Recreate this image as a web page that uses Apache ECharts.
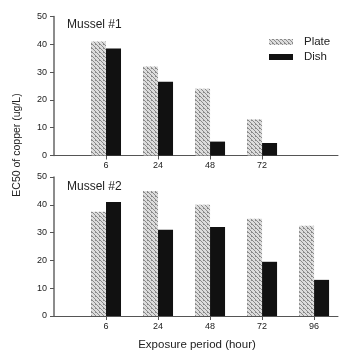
<!DOCTYPE html>
<html><head><meta charset="utf-8">
<script src="https://cdn.jsdelivr.net/npm/echarts@6/dist/echarts.min.js"></script>
<style>html,body{margin:0;padding:0;background:#fff}#c{width:339px;height:353px}</style>
</head><body><div id="c"></div>
<script>
const categories = ["6", "24", "48", "72", "96"];
const topCategories = ["6", "24", "48", "72"];
const mussel1Plate = [41, 32, 24, 13];
const mussel1Dish = [38.5, 26.5, 5, 4.5];
const mussel2Plate = [37.5, 45, 40, 35, 32.5];
const mussel2Dish = [41, 31, 32, 19.5, 13];
const yTicks = [0, 10, 20, 30, 40, 50];

// light speckled hatch pattern for "Plate"
const pc = document.createElement('canvas');
pc.width = 4; pc.height = 4;
const g = pc.getContext('2d');
g.fillStyle = '#dcdcdc'; g.fillRect(0, 0, 4, 4);
g.fillStyle = '#8a8a8a';
[[0,0],[1,1],[2,2],[3,3],[3,0]].forEach(p => g.fillRect(p[0], p[1], 1, 1));
const plateColor = {image: pc, repeat: 'repeat'};
const dishColor = '#111';

const font = 'Arial, "Liberation Sans", sans-serif';
function toPts(arr){ return arr.map((v,i)=>[i+1, v]); }

function xAxis(idx, labels){
  return {
    type: 'value', gridIndex: idx, min: 0, max: 5.46, interval: 1,
    axisLine: {show: true, lineStyle: {color: '#555', width: 1}},
    axisTick: {show: true, length: 4, lineStyle: {color: '#555'}, customValues: labels.map((_, i) => i + 1)},
    axisLabel: {fontSize: 9, color: '#222', fontFamily: font, margin: 6,
      customValues: labels.map((_, i) => i + 1),
      formatter: v => labels[Math.round(v) - 1] || ''},
    splitLine: {show: false}
  };
}
function yAxis(idx){
  return {
    type: 'value', gridIndex: idx, min: 0, max: 50, interval: 10,
    axisLine: {show: true, lineStyle: {color: '#666', width: 1.5}},
    axisTick: {show: true, length: 4, inside: false, lineStyle: {color: '#555'}},
    minorTick: {show: false},
    axisLabel: {fontSize: 9, color: '#222', fontFamily: font, margin: 7,
      formatter: v => yTicks.indexOf(v) >= 0 ? String(v) : ''},
    splitLine: {show: false}
  };
}
function bar(name, data, color, xi, yi){
  return {
    name, type: 'bar', xAxisIndex: xi, yAxisIndex: yi, data: toPts(data),
    barWidth: 15, barGap: '0%', itemStyle: {color}, animation: false
  };
}

const chart = echarts.init(document.getElementById('c'), null, {renderer: 'canvas'});
chart.setOption({
  animation: false,
  grid: [
    {left: 54, top: 16.5, width: 284, height: 139},
    {left: 54, top: 177, width: 284, height: 139}
  ],
  xAxis: [xAxis(0, topCategories), xAxis(1, categories)],
  yAxis: [yAxis(0), yAxis(1)],
  legend: {
    data: ['Plate', 'Dish'], orient: 'vertical', left: 269, top: 36, padding: 0,
    itemWidth: 24, itemHeight: 6, itemGap: 3,
    textStyle: {fontSize: 11.5, color: '#222', fontFamily: font, padding: [0,0,0,6]},
    icon: 'rect'
  },
  series: [
    bar('Plate', mussel1Plate, plateColor, 0, 0),
    bar('Dish', mussel1Dish, dishColor, 0, 0),
    bar('Plate', mussel2Plate, plateColor, 1, 1),
    bar('Dish', mussel2Dish, dishColor, 1, 1)
  ],
  graphic: [
    {type: 'text', left: 67, top: 19, style: {text: 'Mussel #1', fontSize: 12, fill: '#222', fontFamily: font}},
    {type: 'text', left: 67, top: 181, style: {text: 'Mussel #2', fontSize: 12, fill: '#222', fontFamily: font}},
    {type: 'text', x: 17, y: 145, rotation: Math.PI/2,
      style: {text: 'EC50 of copper (ug/L)', fontSize: 10.5, fill: '#222', fontFamily: font, align: 'center', verticalAlign: 'middle'}},
    {type: 'text', x: 197, y: 345,
      style: {text: 'Exposure period (hour)', fontSize: 11.5, fill: '#222', fontFamily: font, align: 'center', verticalAlign: 'middle'}}
  ]
});
</script></body></html>
